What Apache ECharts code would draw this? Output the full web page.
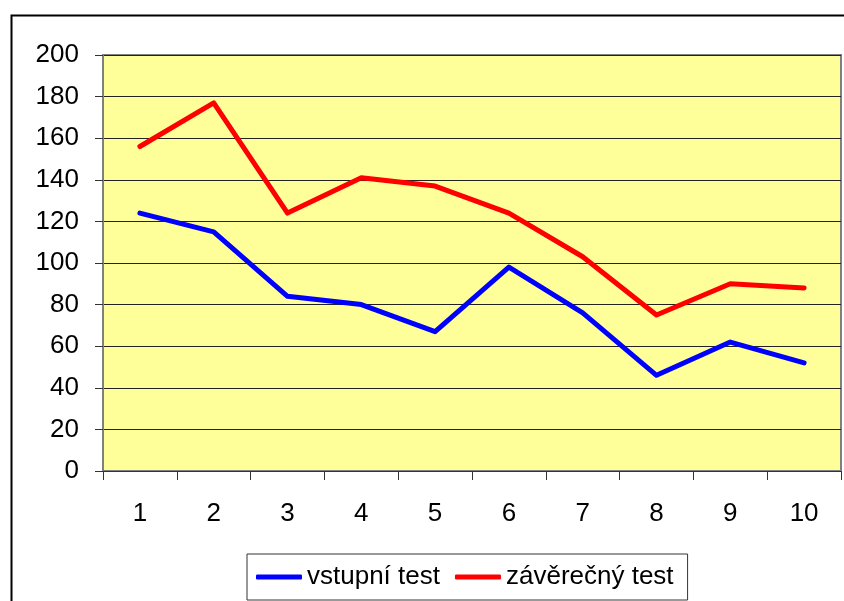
<!DOCTYPE html>
<html>
<head>
<meta charset="utf-8">
<script src="https://cdn.jsdelivr.net/npm/echarts@6/dist/echarts.min.js"></script>
<style>
  html, body { margin: 0; padding: 0; background: #fff; }
  #chart { width: 844px; height: 601px; }
</style>
</head>
<body>
<div id="chart"></div>
<script>
// data
var categories = ['1', '2', '3', '4', '5', '6', '7', '8', '9', '10'];
var vstupniTest = [124, 115, 84, 80, 67, 98, 76, 46, 62, 52];
var zaverecnyTest = [156, 177, 124, 141, 137, 124, 103, 75, 90, 88];
var seriesNames = ['vstupní test', 'závěrečný test'];

var font = '"Liberation Sans", Arial, sans-serif';

var chart = echarts.init(document.getElementById('chart'));
var option = {
    animation: false,
    backgroundColor: '#fff',
    graphic: [
        {
            type: 'rect',
            left: 9,
            top: 13,
            shape: { width: 900, height: 700 },
            style: { fill: 'none', stroke: '#000', lineWidth: 2 },
            z: -1
        }
    ],
    grid: {
        left: 103,
        top: 55,
        right: 3,
        bottom: 130,
        show: true,
        backgroundColor: '#ffff99',
        borderColor: '#808080',
        borderWidth: 2
    },
    legend: {
        data: seriesNames,
        left: 247,
        top: 554,
        padding: [10, 14, 10, 9],
        itemGap: 15,
        itemWidth: 46,
        itemHeight: 5,
        icon: 'roundRect',
        backgroundColor: '#fff',
        borderColor: '#333',
        borderWidth: 1,
        textStyle: { fontFamily: font, fontSize: 26, color: '#000' }
    },
    xAxis: {
        type: 'category',
        data: categories,
        boundaryGap: true,
        axisLine: { lineStyle: { color: '#333', width: 1 } },
        axisTick: { show: true, length: 9, lineStyle: { color: '#333' } },
        axisLabel: { margin: 30, fontFamily: font, fontSize: 26, color: '#000' },
        splitLine: { show: false }
    },
    yAxis: {
        type: 'value',
        min: 0,
        max: 200,
        interval: 20,
        axisLine: { show: true, lineStyle: { color: '#808080', width: 2 } },
        axisTick: { show: true, length: 8, lineStyle: { color: '#333' } },
        axisLabel: { margin: 24, fontFamily: font, fontSize: 26, color: '#000' },
        splitLine: { show: true, lineStyle: { color: '#222', width: 1 } }
    },
    series: [
        {
            name: seriesNames[0],
            type: 'line',
            data: vstupniTest,
            showSymbol: false,
            symbol: 'none',
            itemStyle: { color: '#0000ff' },
            lineStyle: { color: '#0000ff', width: 5, cap: 'round', join: 'round' }
        },
        {
            name: seriesNames[1],
            type: 'line',
            data: zaverecnyTest,
            showSymbol: false,
            symbol: 'none',
            itemStyle: { color: '#ff0000' },
            lineStyle: { color: '#ff0000', width: 5, cap: 'round', join: 'round' }
        }
    ]
};
chart.setOption(option);
</script>
</body>
</html>
